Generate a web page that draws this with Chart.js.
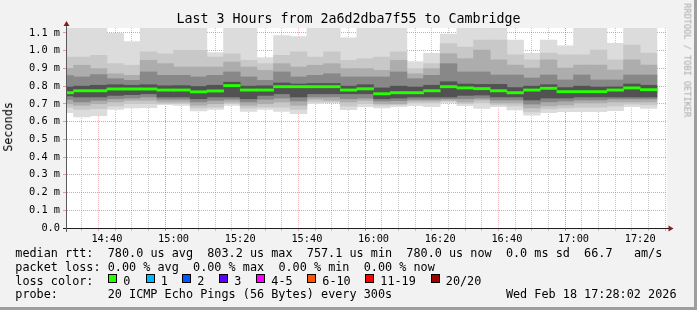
<!DOCTYPE html>
<html><head><meta charset="utf-8"><title>Smokeping</title>
<script src="https://cdn.jsdelivr.net/npm/chart.js"></script>
<style>
html,body{margin:0;padding:0;background:#f2f2f2;}
#wrap{position:relative;width:697px;height:310px;overflow:hidden;background:#f2f2f2;font-family:"DejaVu Sans Mono",monospace;color:#000;}
#c{position:absolute;left:0;top:0;}
.txt{position:absolute;white-space:pre;line-height:1;}
.box{position:absolute;width:9px;height:9px;box-sizing:border-box;border:1px solid #000;}
#frameR{position:absolute;right:0;top:0;width:3px;height:310px;background:#9e9e9e;}
#frameB{position:absolute;left:0;bottom:0;width:697px;height:3px;background:#9e9e9e;}
</style></head>
<body><div id="wrap"><canvas id="c" width="697" height="310"></canvas><div id="frameR"></div><div id="frameB"></div></div>
<script>
// ---- data (values in milliseconds) ----
const times = ['14:30','14:35','14:40','14:45','14:50','14:55','15:00','15:05','15:10','15:15','15:20','15:25',
  '15:30','15:35','15:40','15:45','15:50','15:55','16:00','16:05','16:10','16:15','16:20','16:25',
  '16:30','16:35','16:40','16:45','16:50','16:55','17:00','17:05','17:10','17:15','17:20','17:25'];
const median = [0.763,0.774,0.774,0.784,0.784,0.784,0.778,0.778,0.768,0.773,0.803,0.778,
  0.778,0.797,0.797,0.797,0.797,0.778,0.785,0.757,0.763,0.763,0.774,0.797,
  0.790,0.786,0.774,0.763,0.778,0.788,0.769,0.769,0.769,0.778,0.790,0.780];
const pingMax = [1.2,1.2,1.2,1.098,1.051,1.2,1.2,1.2,1.2,0.989,1.2,1.2,
  0.961,1.085,1.079,1.2,1.2,1.073,1.2,1.2,1.2,0.938,0.985,1.094,
  1.2,1.2,1.2,1.060,0.985,1.060,1.028,1.2,1.2,1.041,1.2,1.2];
const upper2 = [0.964,0.964,0.974,0.927,0.918,0.993,0.983,1.002,1.002,0.964,0.983,0.946,
  0.927,0.974,0.993,0.964,0.993,0.946,0.955,0.964,0.993,0.899,0.927,1.040,
  1.021,1.060,1.060,0.976,0.948,0.987,0.976,0.976,1.004,0.948,1.032,0.987];
const upper3 = [0.900,0.918,0.899,0.870,0.861,0.946,0.927,0.908,0.908,0.908,0.936,0.908,
  0.889,0.927,0.908,0.918,0.927,0.899,0.899,0.889,0.946,0.870,0.899,0.983,
  0.955,1.004,0.948,0.919,0.902,0.948,0.902,0.919,0.919,0.891,0.948,0.919];
const upper4 = [0.860,0.852,0.865,0.842,0.833,0.880,0.861,0.861,0.852,0.861,0.880,0.852,
  0.833,0.880,0.852,0.861,0.870,0.852,0.852,0.852,0.880,0.842,0.861,0.927,
  0.880,0.880,0.863,0.863,0.846,0.863,0.835,0.863,0.835,0.835,0.863,0.863];
const upper5 = [0.795,0.800,0.805,0.808,0.805,0.808,0.802,0.803,0.798,0.805,0.822,0.800,
  0.802,0.818,0.812,0.815,0.815,0.800,0.808,0.790,0.800,0.795,0.805,0.825,
  0.812,0.810,0.810,0.792,0.800,0.808,0.792,0.800,0.795,0.796,0.812,0.805];
const lower5 = [0.745,0.739,0.739,0.748,0.752,0.757,0.739,0.739,0.729,0.739,0.739,0.729,
  0.748,0.757,0.739,0.757,0.757,0.757,0.757,0.729,0.733,0.739,0.739,0.739,
  0.748,0.750,0.739,0.739,0.722,0.733,0.733,0.739,0.739,0.739,0.739,0.739];
const lower4 = [0.725,0.711,0.720,0.729,0.733,0.739,0.726,0.726,0.711,0.720,0.726,0.711,
  0.726,0.733,0.716,0.739,0.739,0.729,0.733,0.716,0.718,0.726,0.726,0.729,
  0.729,0.733,0.722,0.722,0.699,0.711,0.716,0.722,0.722,0.728,0.728,0.728];
const lower3 = [0.700,0.692,0.701,0.711,0.720,0.720,0.711,0.711,0.692,0.701,0.711,0.692,
  0.701,0.711,0.692,0.726,0.720,0.711,0.720,0.701,0.701,0.716,0.716,0.720,
  0.711,0.722,0.705,0.705,0.677,0.688,0.694,0.705,0.705,0.711,0.711,0.711];
const lower2 = [0.680,0.669,0.673,0.688,0.701,0.701,0.701,0.701,0.677,0.682,0.701,0.677,
  0.682,0.682,0.669,0.711,0.711,0.688,0.701,0.692,0.696,0.705,0.705,0.716,
  0.701,0.705,0.694,0.688,0.654,0.671,0.677,0.682,0.682,0.688,0.699,0.694];
const pingMin = [0.650,0.626,0.633,0.669,0.677,0.679,0.695,0.692,0.660,0.669,0.692,0.658,
  0.669,0.658,0.645,0.701,0.705,0.667,0.684,0.677,0.685,0.690,0.685,0.705,
  0.690,0.675,0.684,0.666,0.637,0.650,0.656,0.656,0.656,0.662,0.684,0.675];
const yTickValues = [0,0.1,0.2,0.3,0.4,0.5,0.6,0.7,0.8,0.9,1.0,1.1];
const xTickLabels = ['14:40','15:00','15:20','15:40','16:00','16:20','16:40','17:00','17:20'];
const hourLines = ['15:00','16:00','17:00'];
const rangeStart = '14:28:02', rangeEnd = '17:28:02';
const lossLabels = ['0','1','2','3','4-5','6-10','11-19','20/20'];

// ---- styles / layout ----
const lossColors = ['#26ff00','#00b8ff','#0059ff','#5e00ff','#ff00ff','#ff5500','#ff0000','#a10000'];
const lossBoxX = [108,145.5,182,219,256,307,365,430.5];
const bandColors = ['#dcdcdc','#c8c8c8','#adadad','#888888','#525252'];
const MEDIAN_HALF = 0.0064;
const FONT = '"DejaVu Sans Mono", monospace';
const GRID_MINOR = 'rgba(143,143,143,0.5)';
const GRID_LABEL = 'rgba(222,79,79,0.38)';
const GRID_MAJOR = 'rgba(222,79,79,0.65)';

function toMin(s){const p=s.split(':').map(Number);return p[0]*60+p[1]+(p[2]||0)/60;}
const X_MIN = toMin(rangeStart), X_MAX = toMin(rangeEnd);
const centers = times.map(t => toMin(t) - 2.5);
const labelSet = new Set(xTickLabels.map(toMin));
const hourSet = new Set(hourLines.map(toMin));
const gridMinutes = [];
for (let m = Math.ceil(X_MIN/5)*5; m < X_MAX; m += 5) gridMinutes.push(m);

const bands = [[pingMin,pingMax],[lower2,upper2],[lower3,upper3],[lower4,upper4],[lower5,upper5]];
const datasets = bands.map((b,i) => ({
  data: centers.map((x,k) => ({x, y:[b[0][k], b[1][k]]})),
  backgroundColor: bandColors[i], order: 10 - i
}));
datasets.push({
  data: centers.map((x,k) => ({x, y:[median[k]-MEDIAN_HALF, median[k]+MEDIAN_HALF]})),
  backgroundColor: lossColors[0], order: 0
});

function fmt(m){const h=Math.floor(m/60), mm=Math.round(m-h*60);return String(h).padStart(2,'0')+':'+String(mm).padStart(2,'0');}

const bgPlugin = {id:'bg', beforeDraw(chart){const {ctx, chartArea:a}=chart;ctx.save();ctx.fillStyle='#ffffff';ctx.fillRect(a.left,a.top,a.right-a.left,a.bottom-a.top);ctx.restore();}};
const axisPlugin = {id:'axes', afterDraw(chart){
  const {ctx, chartArea:a}=chart;
  ctx.save();
  ctx.fillStyle='#1f1f1f';
  ctx.fillRect(a.left-4, a.bottom, a.right-a.left+8, 1);
  ctx.fillStyle='#5a5a5a';
  ctx.fillRect(a.left-1, a.top-6, 1, a.bottom-a.top+10);
  ctx.fillStyle='#801f1f';
  ctx.beginPath();ctx.moveTo(a.left-3.5,a.top-2);ctx.lineTo(a.left+2.5,a.top-2);ctx.lineTo(a.left-0.5,a.top-7);ctx.closePath();ctx.fill();
  ctx.beginPath();ctx.moveTo(a.right+1.5,a.bottom-2.5);ctx.lineTo(a.right+1.5,a.bottom+3.5);ctx.lineTo(a.right+6.5,a.bottom+0.5);ctx.closePath();ctx.fill();
  ctx.restore();
}};

new Chart(document.getElementById('c'), {
  type:'bar',
  data:{datasets},
  options:{
    responsive:false, animation:false, events:[],
    layout:{padding:{left:0, top:28, right:30, bottom:62}},
    plugins:{legend:{display:false}, tooltip:{enabled:false}, title:{display:false}},
    datasets:{bar:{grouped:false, barPercentage:1, categoryPercentage:1, borderWidth:0}},
    scales:{
      x:{type:'linear', min:X_MIN, max:X_MAX, z:1, offset:false,
        afterBuildTicks:s=>{s.ticks = gridMinutes.map(v=>({value:v}));},
        afterFit:s=>{s.height=20;},
        ticks:{autoSkip:false, maxRotation:0, minRotation:0, padding:2, color:'#000',
          font:{family:FONT, size:10.3}, callback:v=> labelSet.has(v) ? fmt(v) : ''},
        grid:{lineWidth:1, tickLength:3,
          color:c=> !c.tick ? GRID_MINOR : hourSet.has(c.tick.value) ? GRID_MAJOR : labelSet.has(c.tick.value) ? GRID_LABEL : GRID_MINOR},
        border:{display:false, dash:[1,1]}},
      y:{type:'linear', min:0, max:1.128, z:1,
        afterBuildTicks:s=>{s.ticks = yTickValues.map(v=>({value:v}));},
        afterFit:s=>{s.width=67;},
        ticks:{padding:3, color:'#000', font:{family:FONT, size:10.3},
          callback:v=> v===0 ? '0.0' : v.toFixed(1)+' m'},
        grid:{lineWidth:1, tickLength:4, color:'rgba(222,79,79,0.55)'},
        border:{display:false, dash:[1,1]}}
    }
  },
  plugins:[bgPlugin, axisPlugin]
});

// ---- texts ----
const wrap = document.getElementById('wrap');
function addText(str, left, top, size, extra){
  const d=document.createElement('div');d.className='txt';d.textContent=str;
  d.style.left=left+'px';d.style.top=top+'px';d.style.fontSize=size+'px';
  if(extra) Object.assign(d.style, extra);
  wrap.appendChild(d);return d;
}
const LEG = 11.81, ADV = LEG*0.60205, X0 = 15.3;
function placeLine(str, baseline){
  const top = baseline - 0.846*LEG;
  const re=/\S+/g;let m;
  while((m=re.exec(str))!==null){ addText(m[0], X0 + m.index*ADV, top, LEG); }
}
addText('Last 3 Hours from 2a6d2dba7f55 to Cambridge', 0, 12.45, 13.3, {width:'697px', textAlign:'center'});
placeLine('median rtt:  780.0 us avg  803.2 us max  757.1 us min  780.0 us now  0.0 ms sd  66.7   am/s', 258.3);
placeLine('packet loss: 0.00 % avg  0.00 % max  0.00 % min  0.00 % now', 271.9);
placeLine('loss color:', 285.5);
placeLine('probe:       20 ICMP Echo Pings (56 Bytes) every 300s                Wed Feb 18 17:28:02 2026', 299.2);
lossLabels.forEach((lab,i)=>{
  const b=document.createElement('div');b.className='box';b.style.left=lossBoxX[i]+'px';b.style.top='273.5px';b.style.background=lossColors[i];wrap.appendChild(b);
  addText(lab, lossBoxX[i]+15.3, 285.5-0.846*LEG, LEG);
});
addText('Seconds', -40.8, 126.5-LEG/2, LEG, {width:'100px', textAlign:'center', transform:'rotate(-90deg)', transformOrigin:'50% 50%'});
addText('RRDTOOL / TOBI OETIKER', 687.3-60, 60-4.3, 8.6, {width:'120px', textAlign:'center', color:'#a8a8a8', transform:'rotate(90deg)', transformOrigin:'50% 50%'});
</script></body></html>
